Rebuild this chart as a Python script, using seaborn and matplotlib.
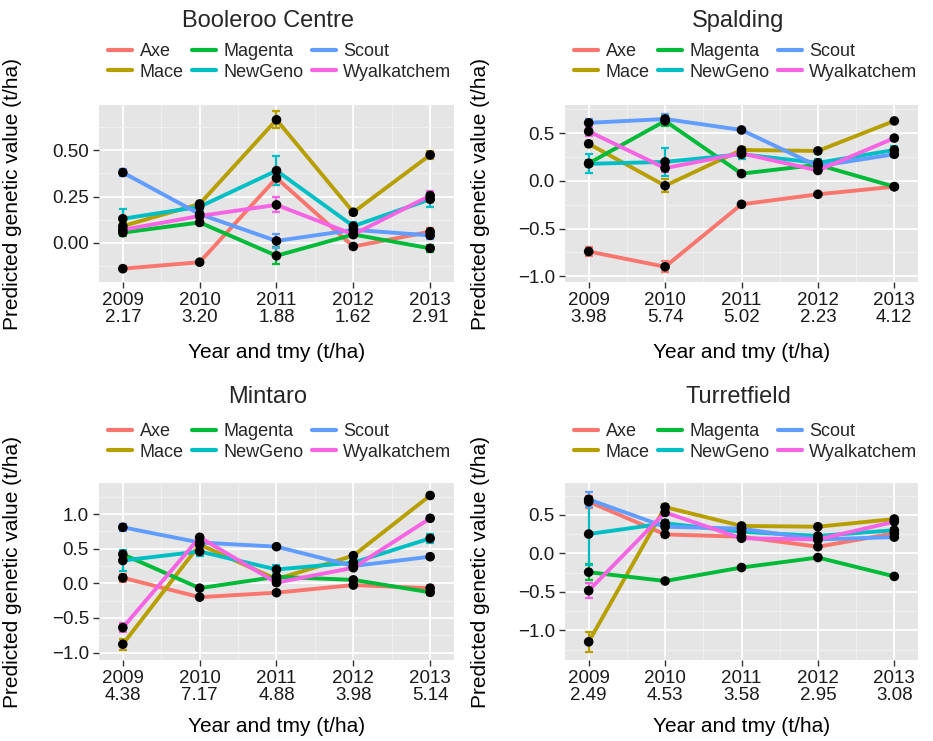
import numpy as np
import pandas as pd
import matplotlib
matplotlib.use("Agg")
import matplotlib.pyplot as plt
from matplotlib.lines import Line2D
from matplotlib.ticker import MultipleLocator
import seaborn as sns

years = [2009, 2010, 2011, 2012, 2013]
varieties = ["Axe", "Mace", "Magenta", "NewGeno", "Scout", "Wyalkatchem"]
colors = ["#F8766D", "#B79F00", "#00BA38", "#00BFC4", "#619CFF", "#F564E3"]

# ---- Booleroo Centre ----
boo_tmy = ["2.17", "3.20", "1.88", "1.62", "2.91"]
boo_axe = [-0.14, -0.105, 0.35, -0.02, 0.06]
boo_mace = [0.09, 0.21, 0.665, 0.165, 0.475]
boo_magenta = [0.055, 0.11, -0.07, 0.045, -0.03]
boo_newgeno = [0.13, 0.195, 0.39, 0.09, 0.235]
boo_scout = [0.38, 0.155, 0.01, 0.07, 0.04]
boo_wyalk = [0.07, 0.145, 0.205, 0.045, 0.255]
boo_axe_se = [0.015, 0.01, 0.04, 0.015, 0.02]
boo_mace_se = [0.02, 0.015, 0.045, 0.015, 0.02]
boo_magenta_se = [0.02, 0.015, 0.045, 0.015, 0.02]
boo_newgeno_se = [0.055, 0.015, 0.08, 0.02, 0.04]
boo_scout_se = [0.02, 0.015, 0.04, 0.02, 0.02]
boo_wyalk_se = [0.02, 0.015, 0.04, 0.015, 0.025]

# ---- Spalding ----
spa_tmy = ["3.98", "5.74", "5.02", "2.23", "4.12"]
spa_axe = [-0.74, -0.90, -0.245, -0.14, -0.06]
spa_mace = [0.39, -0.05, 0.325, 0.315, 0.63]
spa_magenta = [0.185, 0.63, 0.077, 0.17, -0.06]
spa_newgeno = [0.18, 0.2, 0.28, 0.19, 0.325]
spa_scout = [0.61, 0.65, 0.535, 0.155, 0.28]
spa_wyalk = [0.52, 0.135, 0.29, 0.11, 0.45]
spa_axe_se = [0.05, 0.06, 0.02, 0.02, 0.02]
spa_mace_se = [0.03, 0.07, 0.03, 0.02, 0.02]
spa_magenta_se = [0.03, 0.05, 0.02, 0.02, 0.02]
spa_newgeno_se = [0.1, 0.15, 0.05, 0.04, 0.04]
spa_scout_se = [0.04, 0.05, 0.02, 0.02, 0.03]
spa_wyalk_se = [0.05, 0.045, 0.02, 0.02, 0.02]

# ---- Mintaro ----
min_tmy = ["4.38", "7.17", "4.88", "3.98", "5.14"]
min_axe = [0.08, -0.2, -0.135, -0.025, -0.07]
min_mace = [-0.88, 0.56, 0.06, 0.4, 1.27]
min_magenta = [0.42, -0.07, 0.095, 0.05, -0.13]
min_newgeno = [0.33, 0.46, 0.2, 0.3, 0.65]
min_scout = [0.81, 0.59, 0.53, 0.25, 0.385]
min_wyalk = [-0.64, 0.665, 0.01, 0.225, 0.94]
min_axe_se = [0.06, 0.03, 0.02, 0.02, 0.04]
min_mace_se = [0.08, 0.04, 0.03, 0.03, 0.03]
min_magenta_se = [0.04, 0.03, 0.03, 0.02, 0.04]
min_newgeno_se = [0.15, 0.06, 0.06, 0.03, 0.06]
min_scout_se = [0.05, 0.03, 0.02, 0.02, 0.04]
min_wyalk_se = [0.06, 0.04, 0.03, 0.02, 0.04]

# ---- Turretfield ----
tur_tmy = ["2.49", "4.53", "3.58", "2.95", "3.08"]
tur_axe = [0.67, 0.245, 0.215, 0.085, 0.26]
tur_mace = [-1.15, 0.6, 0.355, 0.345, 0.445]
tur_magenta = [-0.245, -0.36, -0.185, -0.055, -0.30]
tur_newgeno = [0.25, 0.39, 0.28, 0.225, 0.3]
tur_scout = [0.70, 0.345, 0.32, 0.18, 0.21]
tur_wyalk = [-0.485, 0.53, 0.195, 0.18, 0.41]
tur_axe_se = [0.08, 0.03, 0.02, 0.02, 0.02]
tur_mace_se = [0.13, 0.04, 0.02, 0.02, 0.03]
tur_magenta_se = [0.1, 0.03, 0.02, 0.02, 0.02]
tur_newgeno_se = [0.4, 0.04, 0.03, 0.03, 0.03]
tur_scout_se = [0.1, 0.03, 0.02, 0.02, 0.02]
tur_wyalk_se = [0.1, 0.03, 0.02, 0.02, 0.02]

panels = [
    dict(title="Booleroo Centre", tmy=boo_tmy,
         vals=[boo_axe, boo_mace, boo_magenta, boo_newgeno, boo_scout, boo_wyalk],
         ses=[boo_axe_se, boo_mace_se, boo_magenta_se, boo_newgeno_se, boo_scout_se, boo_wyalk_se],
         ylim=(-0.212, 0.745), major=0.25, fmt="{:.2f}", box=(99, 105, 454, 282)),
    dict(title="Spalding", tmy=spa_tmy,
         vals=[spa_axe, spa_mace, spa_magenta, spa_newgeno, spa_scout, spa_wyalk],
         ses=[spa_axe_se, spa_mace_se, spa_magenta_se, spa_newgeno_se, spa_scout_se, spa_wyalk_se],
         ylim=(-1.06, 0.797), major=0.5, fmt="{:.1f}", box=(565, 105, 918, 282)),
    dict(title="Mintaro", tmy=min_tmy,
         vals=[min_axe, min_mace, min_magenta, min_newgeno, min_scout, min_wyalk],
         ses=[min_axe_se, min_mace_se, min_magenta_se, min_newgeno_se, min_scout_se, min_wyalk_se],
         ylim=(-1.108, 1.45), major=0.5, fmt="{:.1f}", box=(99, 483, 454, 660)),
    dict(title="Turretfield", tmy=tur_tmy,
         vals=[tur_axe, tur_mace, tur_magenta, tur_newgeno, tur_scout, tur_wyalk],
         ses=[tur_axe_se, tur_mace_se, tur_magenta_se, tur_newgeno_se, tur_scout_se, tur_wyalk_se],
         ylim=(-1.386, 0.913), major=0.5, fmt="{:.1f}", box=(565, 483, 918, 660)),
]

sns.set_theme(style="darkgrid")
plt.rcParams["font.family"] = ["Liberation Sans", "DejaVu Sans"]

W, H = 933, 741
fig = plt.figure(figsize=(W / 100, H / 100), dpi=100)
palette = dict(zip(varieties, colors))

for i, p in enumerate(panels):
    x0, y0, x1, y1 = p["box"]
    top_row = y0 < 300
    left_col = x0 < 300
    ax = fig.add_axes([x0 / W, 1 - y1 / H, (x1 - x0) / W, (y1 - y0) / H])
    ax.set_facecolor("#E5E5E5")
    rows = []
    for v, vals, ses in zip(varieties, p["vals"], p["ses"]):
        for yr, val, se in zip(years, vals, ses):
            rows.append(dict(year=yr, value=val, se=se, variety=v))
    df = pd.DataFrame(rows)

    for v in varieties:
        d = df[df.variety == v]
        ax.errorbar(d.year, d.value, yerr=d.se, fmt="none", ecolor=palette[v],
                    elinewidth=1.6, capsize=3, capthick=1.6, zorder=2)
    sns.lineplot(data=df, x="year", y="value", hue="variety", hue_order=varieties,
                 palette=palette, linewidth=2.8, legend=False, errorbar=None,
                 ax=ax, zorder=3)
    sns.scatterplot(data=df, x="year", y="value", color="black", s=48,
                    edgecolor="none", legend=False, ax=ax, zorder=4)

    ax.set_xlim(2009 - 0.31, 2013 + 0.31)
    ax.set_ylim(*p["ylim"])
    ax.set_xticks(years)
    ax.set_xticklabels([f"{y}\n{t}" for y, t in zip(years, p["tmy"])])
    ax.xaxis.set_minor_locator(MultipleLocator(0.5))
    ax.yaxis.set_major_locator(MultipleLocator(p["major"]))
    ax.yaxis.set_minor_locator(MultipleLocator(p["major"] / 2))
    ticks = [t for t in ax.get_yticks() if p["ylim"][0] <= t <= p["ylim"][1]]
    ax.set_yticks(ticks)
    ax.set_yticklabels([p["fmt"].format(t).replace("-", "\u2212") for t in ticks])
    ax.set_ylim(*p["ylim"])
    ax.grid(which="major", color="white", linewidth=1.3)
    ax.grid(which="minor", color="#F2F2F2", linewidth=0.6)
    ax.tick_params(which="major", axis="both", length=4.3, width=1.0, color="#333333",
                   labelsize=13.5, labelcolor="#1a1a1a", pad=3, bottom=True, left=True)
    ax.tick_params(which="minor", length=0)
    for t in ax.get_xticklabels():
        t.set_linespacing(1.0)
    for s in ax.spines.values():
        s.set_visible(False)
    ax.set_xlabel("Year and tmy (t/ha)", fontsize=15, labelpad=(12 if top_row else 9),
                  color="black")
    ax.set_ylabel("Predicted genetic value (t/ha)", fontsize=15, color="black")
    ax.yaxis.set_label_coords(((22 if left_col else 490) - x0) / (x1 - x0), 0.5)

    # title
    tx = 268 if left_col else 738
    ty = 21 if top_row else 397
    fig.text(tx / W, 1 - ty / H, p["title"], ha="center", va="center", fontsize=17)

    # legend
    handles = [Line2D([0], [0], color=c, lw=3) for c in colors]
    lx = (108 if left_col else 574) / W
    ly = 1 - ((43 if top_row else 423)) / H
    fig.legend(handles, varieties, loc="upper left", bbox_to_anchor=(lx, ly),
               ncol=3, frameon=False, fontsize=13, handlelength=1.35,
               handletextpad=0.4, columnspacing=0.45, labelspacing=0.2,
               borderpad=0, borderaxespad=0)

fig.savefig("out.png", dpi=100)
